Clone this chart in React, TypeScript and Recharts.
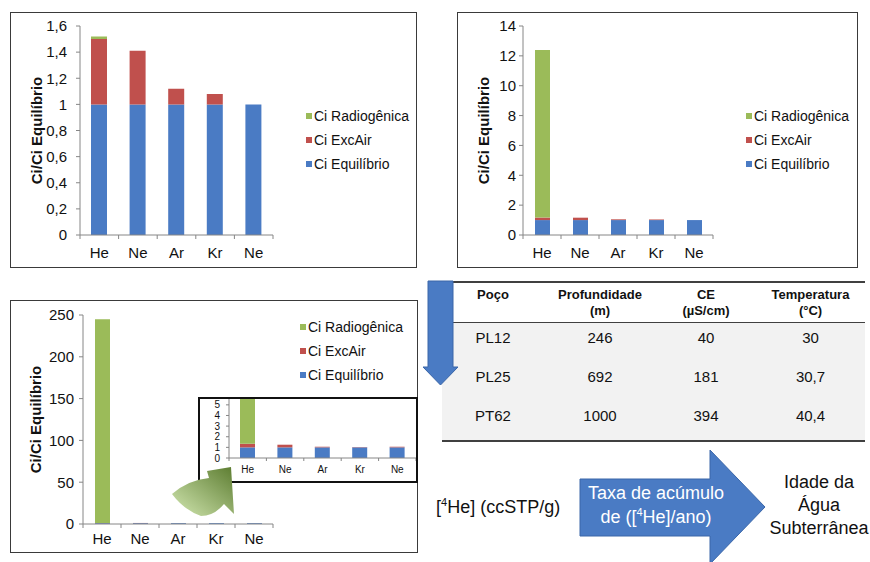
import { BarChart, Bar, XAxis, YAxis, Legend, ReferenceArea } from 'recharts'

const FONT = '"Liberation Sans", Arial, Helvetica, sans-serif'
const AXIS = '#868686'
const BLUE = '#4a7bc4'
const RED = '#c0504d'
const GREEN = '#9bbb59'

const categories = ['He', 'Ne', 'Ar', 'Kr', 'Ne']
const seriesNames = { eq: 'Ci Equilíbrio', exc: 'Ci ExcAir', rad: 'Ci Radiogênica' }

// gráfico superior esquerdo
const equilibrioA = [1, 1, 1, 1, 1]
const excAirA = [0.5, 0.41, 0.12, 0.08, 0]
const radiogenicaA = [0.02, 0, 0, 0, 0]
const ticksA = [0, 0.2, 0.4, 0.6, 0.8, 1, 1.2, 1.4, 1.6]

// gráfico superior direito
const equilibrioB = [1, 1, 1, 1, 1]
const excAirB = [0.17, 0.16, 0.05, 0.04, 0]
const radiogenicaB = [11.23, 0, 0, 0, 0]
const ticksB = [0, 2, 4, 6, 8, 10, 12, 14]

// gráfico inferior (e o detalhe ampliado)
const equilibrioC = [1, 1, 1, 1, 1]
const excAirC = [0.34, 0.25, 0.06, 0.03, 0.06]
const radiogenicaC = [243.66, 0, 0, 0, 0]
const ticksC = [0, 50, 100, 150, 200, 250]
const ticksZoom = [0, 1, 2, 3, 4, 5]

// tabela
const tableHeaders = [['Poço'], ['Profundidade', '(m)'], ['CE', '(µS/cm)'], ['Temperatura', '(°C)']]
const wells = ['PL12', 'PL25', 'PT62']
const depths = ['246', '692', '1000']
const condutividade = ['40', '181', '394']
const temperaturas = ['30', '30,7', '40,4']
const colWidths = [102, 112, 100, 109]

const buildData = (eq: number[], exc: number[], rad: number[]) =>
    categories.map((name, i) => ({ name, eq: eq[i], exc: exc[i], rad: rad[i] }))

const comma = (v: number) => String(v).replace('.', ',')

const legendOrder = ['rad', 'exc', 'eq']
const legendContent = (props: any) => {
    const items = [...(props.payload ?? [])].sort(
        (a, b) => legendOrder.indexOf(a.dataKey) - legendOrder.indexOf(b.dataKey)
    )
    return (
        <div style={{ fontFamily: FONT, fontSize: 14, color: '#111' }}>
            {items.map((it: any) => (
                <div key={it.dataKey} style={{ display: 'flex', alignItems: 'center', height: 24, whiteSpace: 'nowrap' }}>
                    <span style={{ width: 6, height: 6, background: it.color, marginRight: 2, display: 'inline-block' }} />
                    <span>{it.value}</span>
                </div>
            ))}
        </div>
    )
}

const yLabel = (dx: number) => (props: any) => {
    const vb = props.viewBox ?? { x: 0, y: 0, width: 0, height: 0 }
    const cx = vb.x + dx
    const cy = vb.y + vb.height / 2
    return (
        <text x={cx} y={cy} transform={`rotate(-90 ${cx} ${cy})`} textAnchor="middle" dominantBaseline="central"
            fontWeight="bold" fontSize={15} fontFamily={FONT} fill="#111">
            Ci/Ci Equilíbrio
        </text>
    )
}

// rótulo da categoria + traço nas divisas entre categorias (estilo Excel)
const bandTick = (font: number, tickSize: number, tickMargin: number) => (props: any) => {
    const { x, y, payload, index } = props
    const half = payload?.offset ?? 0
    const axisY = y - tickSize - tickMargin
    const last = index === (props.visibleTicksCount ?? categories.length) - 1
    return (
        <g>
            <line x1={x - half} x2={x - half} y1={axisY} y2={axisY + tickSize} stroke={AXIS} />
            {last && <line x1={x + half} x2={x + half} y1={axisY} y2={axisY + tickSize} stroke={AXIS} />}
            <text x={x} y={y} dy="0.71em" textAnchor="middle" fontSize={font} fontFamily={FONT} fill="#111">
                {payload.value}
            </text>
        </g>
    )
}

type StackProps = {
    eq: number[]
    exc: number[]
    rad: number[]
    width: number
    height: number
    margin: { top: number; right: number; bottom: number; left: number }
    yMax: number
    yTicks: number[]
    yWidth: number
    xHeight: number
    font: number
    tickSize: number
    yTickMargin: number
    xTickMargin: number
    barSize: number
    frame?: boolean
    legend?: { left: number; top: number }
    labelX?: number
}

const StackChart = (p: StackProps) => {
    const data = buildData(p.eq, p.exc, p.rad)
    const tickStyle = { fill: '#111', fontSize: p.font, fontFamily: FONT }
    return (
        <BarChart width={p.width} height={p.height} data={data} margin={p.margin} barCategoryGap={0}>
            <XAxis xAxisId="edge" type="number" domain={[0, categories.length]} hide allowDataOverflow />
            <XAxis dataKey="name" height={p.xHeight} axisLine={{ stroke: AXIS }} tickLine={false}
                tickSize={p.tickSize} tickMargin={p.xTickMargin}
                tick={bandTick(p.font, p.tickSize, p.xTickMargin)} interval={0} />
            <YAxis domain={[0, p.yMax]} ticks={p.yTicks} width={p.yWidth} allowDataOverflow interval={0}
                axisLine={{ stroke: AXIS }} tickLine={{ stroke: AXIS }} tickSize={p.tickSize}
                tickMargin={p.yTickMargin} tick={tickStyle} tickFormatter={comma}
                label={p.labelX !== undefined ? yLabel(p.labelX) : undefined} />
            {p.frame && (
                <ReferenceArea xAxisId="edge" x1={0} x2={categories.length} y1={0} y2={p.yMax}
                    fill="none" stroke={AXIS} strokeWidth={1} />
            )}
            {p.legend && (
                <Legend layout="vertical" align="center" verticalAlign="middle" content={legendContent}
                    wrapperStyle={{ left: p.legend.left, top: p.legend.top, width: 130, height: 72 }} />
            )}
            <Bar dataKey="eq" name={seriesNames.eq} stackId="s" fill={BLUE} barSize={p.barSize} isAnimationActive={false} />
            <Bar dataKey="exc" name={seriesNames.exc} stackId="s" fill={RED} barSize={p.barSize} isAnimationActive={false} />
            <Bar dataKey="rad" name={seriesNames.rad} stackId="s" fill={GREEN} barSize={p.barSize} isAnimationActive={false} />
        </BarChart>
    )
}

const boxStyle = (left: number, top: number, width: number, height: number, border = '1px solid #3a3a3a') => ({
    position: 'absolute' as const,
    left,
    top,
    width,
    height,
    border,
    boxSizing: 'border-box' as const,
    background: '#fff',
    overflow: 'hidden' as const,
})

const App = () => {
    const rows = wells.map((w, i) => [w, depths[i], condutividade[i], temperaturas[i]])
    return (
        <div style={{ position: 'absolute', left: 0, top: 0, width: 870, height: 562, overflow: 'hidden', background: '#fff', fontFamily: FONT }}>
            <div style={boxStyle(10, 12, 407, 256)}>
                <StackChart eq={equilibrioA} exc={excAirA} rad={radiogenicaA} width={405} height={254}
                    margin={{ top: 13, right: 143, bottom: 3, left: 0 }} yMax={1.6} yTicks={ticksA}
                    yWidth={69} xHeight={29} font={15} tickSize={4} yTickMargin={9} xTickMargin={8}
                    barSize={16} frame legend={{ left: 295, top: 91 }} labelX={25} />
            </div>

            <div style={boxStyle(457, 12, 401, 256)}>
                <StackChart eq={equilibrioB} exc={excAirB} rad={radiogenicaB} width={399} height={254}
                    margin={{ top: 13, right: 144, bottom: 3, left: 0 }} yMax={14} yTicks={ticksB}
                    yWidth={65} xHeight={29} font={15} tickSize={4} yTickMargin={3} xTickMargin={8}
                    barSize={15} frame legend={{ left: 288, top: 91 }} labelX={25} />
            </div>

            <div style={boxStyle(10, 300, 408, 253)}>
                <StackChart eq={equilibrioC} exc={excAirC} rad={radiogenicaC} width={406} height={251}
                    margin={{ top: 14, right: 144, bottom: 3, left: 0 }} yMax={250} yTicks={ticksC}
                    yWidth={72} xHeight={25} font={15} tickSize={4} yTickMargin={5} xTickMargin={5}
                    barSize={15} frame legend={{ left: 289, top: 14 }} labelX={24} />
            </div>

            <div style={boxStyle(198, 397, 220, 86, '2px solid #111')}>
                <StackChart eq={equilibrioC} exc={excAirC} rad={radiogenicaC} width={216} height={82}
                    margin={{ top: 0, right: 0, bottom: 3, left: 0 }} yMax={5.55} yTicks={ticksZoom}
                    yWidth={29} xHeight={20} font={10} tickSize={3} yTickMargin={6} xTickMargin={5}
                    barSize={15} />
            </div>

            {/* tabela dos poços */}
            <div style={{ position: 'absolute', left: 442, top: 281, width: 423, borderTop: '2px solid #404040', borderBottom: '2px solid #404040', color: '#111' }}>
                <div style={{ display: 'flex', height: 39, borderBottom: '1px solid #404040', background: '#fff' }}>
                    {tableHeaders.map((h, i) => (
                        <div key={i} style={{ width: colWidths[i], textAlign: 'center', fontWeight: 'bold', fontSize: 13, lineHeight: '16px', paddingTop: 4 }}>
                            {h.map((l, j) => <div key={j}>{l}</div>)}
                        </div>
                    ))}
                </div>
                <div style={{ background: '#f2f2f2' }}>
                    {rows.map((r, i) => (
                        <div key={i} style={{ display: 'flex', height: 39 }}>
                            {r.map((c, j) => (
                                <div key={j} style={{ width: colWidths[j], textAlign: 'center', fontSize: 15, lineHeight: '30px' }}>{c}</div>
                            ))}
                        </div>
                    ))}
                </div>
            </div>

            <svg width={870} height={562} style={{ position: 'absolute', left: 0, top: 0, pointerEvents: 'none' }}>
                <defs>
                    <linearGradient id="greenArrow" x1="0" y1="1" x2="1" y2="0">
                        <stop offset="0" stopColor="#d3e8b2" />
                        <stop offset="1" stopColor="#5c7c30" />
                    </linearGradient>
                </defs>
                <path d="M172,494 Q188,480 209,478 L207,471 L231,467 L234,514 L224,504 Q214,516 201,516 Q184,510 172,494 Z"
                    fill="url(#greenArrow)" />
                <path d="M428,281 L453,281 L453,367 L458,367 L440.5,385 L423,367 L428,367 Z" fill={BLUE} stroke="#3a66a8" strokeWidth={1} />
                <path d="M580,479 L710,479 L710,450 L765,507 L710,564 L710,536 L580,536 Z" fill={BLUE} stroke="#3a66a8" strokeWidth={1} />
            </svg>

            <div style={{ position: 'absolute', left: 436, top: 495, fontSize: 18, lineHeight: '24px', color: '#111', whiteSpace: 'nowrap' }}>
                [<sup style={{ fontSize: 11, lineHeight: 0 }}>4</sup>He] (ccSTP/g)
            </div>
            <div style={{ position: 'absolute', left: 580, top: 481, width: 152, textAlign: 'center', fontSize: 18, lineHeight: '24px', color: '#fff', whiteSpace: 'nowrap' }}>
                <div>Taxa de acúmulo</div>
                <div>de ([<sup style={{ fontSize: 11, lineHeight: 0 }}>4</sup>He]/ano)</div>
            </div>
            <div style={{ position: 'absolute', left: 764, top: 471, width: 110, textAlign: 'center', fontSize: 18, lineHeight: '23px', color: '#111' }}>
                <div>Idade da</div>
                <div>Água</div>
                <div>Subterrânea</div>
            </div>
        </div>
    )
}

export default App
